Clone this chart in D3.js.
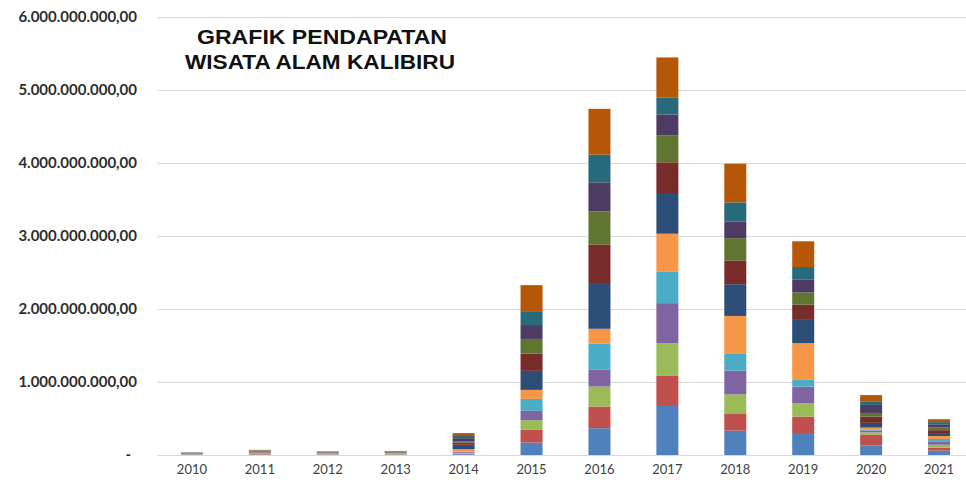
<!DOCTYPE html>
<html>
<head>
<meta charset="utf-8">
<script src="https://cdn.jsdelivr.net/npm/d3@7"></script>
<style>
  body { margin: 0; background: #fff; }
  svg { display: block; }
</style>
</head>
<body>
<div id="chart"></div>
<script>
// categories (years) and the 12 stacked series (months)
const years = ['2010', '2011', '2012', '2013', '2014', '2015', '2016', '2017', '2018', '2019', '2020', '2021'];
const months = ['Jan', 'Feb', 'Mar', 'Apr', 'Mei', 'Jun', 'Jul', 'Agu', 'Sep', 'Okt', 'Nov', 'Des'];
const monthColors = ['#4f81bd', '#c0504d', '#9bbb59', '#8064a2', '#4bacc6', '#f79646',
                     '#2c4d75', '#772c2a', '#5f7530', '#4d3b62', '#276a7c', '#b65708'];

// revenue per month, in billions of rupiah (one array per year, Jan..Des)
const y2010 = [0.003, 0.003, 0.003, 0.003, 0.003, 0.003, 0.003, 0.003, 0.003, 0.003, 0.003, 0.003];
const y2011 = [0.006, 0.006, 0.005, 0.005, 0.005, 0.006, 0.006, 0.006, 0.006, 0.006, 0.006, 0.007];
const y2012 = [0.004, 0.004, 0.004, 0.004, 0.004, 0.005, 0.004, 0.004, 0.004, 0.004, 0.004, 0.005];
const y2013 = [0.004, 0.004, 0.004, 0.004, 0.004, 0.005, 0.005, 0.005, 0.005, 0.005, 0.005, 0.005];
const y2014 = [0.01, 0.01, 0.01, 0.01, 0.01, 0.03, 0.06, 0.03, 0.02, 0.04, 0.03, 0.04];
const y2015 = [0.17, 0.174, 0.133, 0.127, 0.164, 0.123, 0.26, 0.237, 0.2, 0.19, 0.19, 0.356];
const y2016 = [0.366, 0.297, 0.274, 0.229, 0.356, 0.205, 0.626, 0.525, 0.456, 0.397, 0.379, 0.626];
const y2017 = [0.671, 0.411, 0.448, 0.548, 0.434, 0.516, 0.557, 0.42, 0.366, 0.288, 0.229, 0.552];
const y2018 = [0.333, 0.237, 0.26, 0.325, 0.237, 0.511, 0.434, 0.325, 0.305, 0.229, 0.26, 0.53];
const y2019 = [0.288, 0.237, 0.182, 0.229, 0.092, 0.503, 0.329, 0.196, 0.168, 0.174, 0.174, 0.352];
const y2020 = [0.13, 0.15, 0.03, 0.025, 0.015, 0.025, 0.065, 0.085, 0.05, 0.11, 0.05, 0.085];
const y2021 = [0.06, 0.04, 0.04, 0.04, 0.04, 0.04, 0.04, 0.04, 0.04, 0.04, 0.03, 0.04];
const yearValues = [y2010, y2011, y2012, y2013, y2014, y2015, y2016, y2017, y2018, y2019, y2020, y2021];

const yTicks = [0, 1, 2, 3, 4, 5, 6];
const titleLines = ['GRAFIK PENDAPATAN', 'WISATA ALAM KALIBIRU'];

const width = 966;
const height = 482;

// rows for d3.stack: { year, Jan: .., Feb: .. }
const rows = years.map((yr, i) => {
    const row = { year: yr };
    months.forEach((m, j) => { row[m] = yearValues[i][j] * 1e9; });
    return row;
});

const svg = d3.select('#chart').append('svg')
    .attr('width', width)
    .attr('height', height)
    .style('font-family', 'Lato, "Open Sans", sans-serif');

const xScale = d3.scaleBand()
    .domain(years)
    .range([158, 973]);

const yScale = d3.scaleLinear()
    .domain([0, 6e9])
    .range([455, 16.5]);

const barWidth = 22;

// gridlines
svg.append('g')
    .selectAll('line')
    .data(yTicks.filter(d => d > 0))
    .enter()
    .append('line')
        .attr('x1', 157)
        .attr('x2', width)
        .attr('y1', d => Math.round(yScale(d * 1e9)) + 0.5)
        .attr('y2', d => Math.round(yScale(d * 1e9)) + 0.5)
        .attr('stroke', '#d9d9d9')
        .attr('stroke-width', 1);

// y labels, indonesian number format
const fmtId = v => {
    if (v === 0) return '-';
    return d3.format(',.2f')(v).replace(/,/g, '#').replace('.', ',').replace(/#/g, '.');
};

svg.append('g')
    .selectAll('text')
    .data(yTicks)
    .enter()
    .append('text')
        .attr('x', d => d === 0 ? 131 : 137)
        .attr('y', d => yScale(d * 1e9))
        .attr('dy', '0.35em')
        .attr('text-anchor', 'end')
        .style('font-size', '15px')
        .style('font-weight', 'bold')
        .style('fill', '#2e2e2e')
        .text(d => fmtId(d * 1e9));

// stacked bars
const stack = d3.stack().keys(months);
const series = stack(rows);

svg.append('g')
    .selectAll('g')
    .data(series)
    .enter()
    .append('g')
        .attr('fill', (d, i) => monthColors[i])
    .selectAll('rect')
    .data(d => d)
    .enter()
    .append('rect')
        .attr('x', d => xScale(d.data.year) + xScale.bandwidth() / 2 - barWidth / 2)
        .attr('y', d => yScale(d[1]))
        .attr('width', barWidth)
        .attr('height', d => Math.max(0, yScale(d[0]) - yScale(d[1])));

// baseline
svg.append('line')
    .attr('x1', 157)
    .attr('x2', width)
    .attr('y1', 455.5)
    .attr('y2', 455.5)
    .attr('stroke', '#d9d9d9');

// x labels
svg.append('g')
    .selectAll('text')
    .data(years)
    .enter()
    .append('text')
        .attr('x', d => xScale(d) + xScale.bandwidth() / 2)
        .attr('y', 474)
        .attr('text-anchor', 'middle')
        .style('font-size', '13px')
        .style('fill', '#404040')
        .text(d => d);

// title
svg.append('g')
    .selectAll('text')
    .data(titleLines)
    .enter()
    .append('text')
        .attr('x', (d, i) => i === 0 ? 322 : 320)
        .attr('y', (d, i) => 44 + i * 24.5)
        .attr('text-anchor', 'middle')
        .attr('textLength', (d, i) => i === 0 ? 250 : 270)
        .attr('lengthAdjust', 'spacingAndGlyphs')
        .style('font-family', '"Liberation Sans", Arial, sans-serif')
        .style('font-size', '21px')
        .style('font-weight', 'bold')
        .style('fill', '#111')
        .text(d => d);
</script>
</body>
</html>
